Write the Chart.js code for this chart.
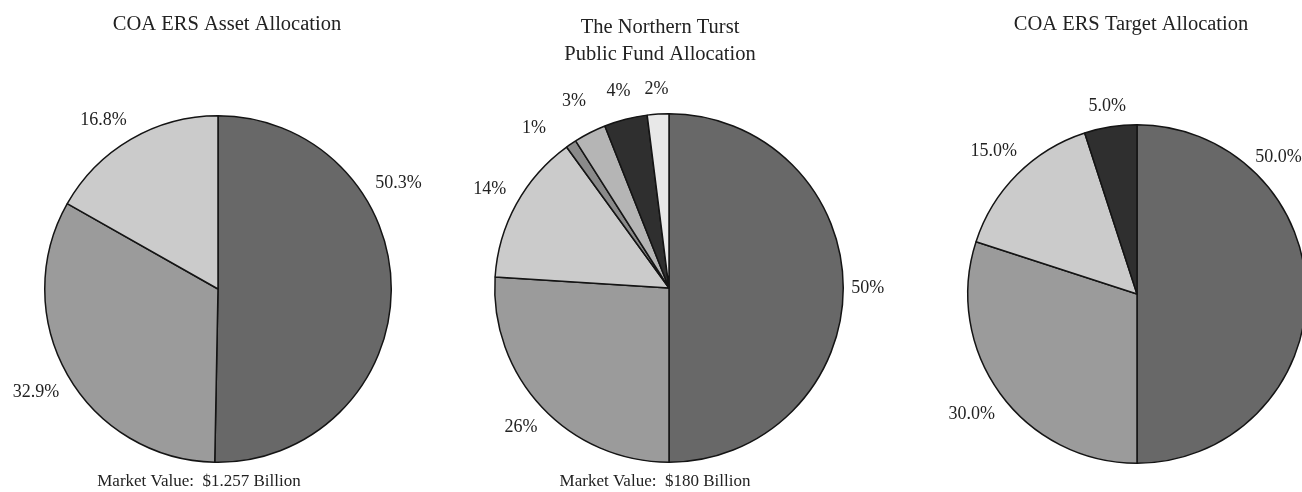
<!DOCTYPE html>
<html>
<head>
<meta charset="utf-8">
<script src="https://cdn.jsdelivr.net/npm/chart.js@4.4.0/dist/chart.umd.min.js"></script>
<style>
  html, body { margin: 0; padding: 0; background: #fff; overflow: hidden; }
  .wrap { position: relative; width: 1302px; height: 492px; overflow: hidden; }
  .wrap canvas { position: absolute; left: 0; top: 0; }
</style>
</head>
<body>
<div class="wrap">
  <canvas id="assetChart" width="1310" height="492"></canvas>
  <canvas id="trustChart" width="1310" height="492"></canvas>
  <canvas id="targetChart" width="1310" height="492"></canvas>
</div>
<script>
// allocation percentages, clockwise from 12 o'clock
var assetValues = [50.3, 32.9, 16.8];
var trustValues = [50, 26, 14, 1, 3, 4, 2];
var targetValues = [50.0, 30.0, 15.0, 5.0];

var assetColors = ["#686868", "#9b9b9b", "#cbcbcb"];
var trustColors = ["#686868", "#9b9b9b", "#cbcbcb", "#8a8a8a", "#b5b5b5", "#2f2f2f", "#e8e8e8"];
var targetColors = ["#686868", "#9b9b9b", "#cbcbcb", "#2f2f2f"];

var serif = "'Liberation Serif', 'Times New Roman', serif";
var textColor = "#222";

// percentage labels outside each slice
// shift: rotate a label (degrees), push: move it further out (px)
const sliceLabels = {
  id: "sliceLabels",
  afterDatasetsDraw(chart, args, opts) {
    const ctx = chart.ctx;
    const meta = chart.getDatasetMeta(0);
    const values = chart.data.datasets[0].data;
    const shift = opts.shift || {};
    const push = opts.push || {};
    ctx.save();
    ctx.font = opts.size + "px " + serif;
    ctx.fillStyle = textColor;
    ctx.textAlign = "center";
    ctx.textBaseline = "middle";
    meta.data.forEach(function (arc, i) {
      const p = arc.getProps(["x", "y", "startAngle", "endAngle", "outerRadius"], true);
      const mid = (p.startAngle + p.endAngle) / 2 + (shift[i] || 0) * Math.PI / 180;
      const text = values[i].toFixed(opts.decimals) + "%";
      const w = ctx.measureText(text).width;
      const cos = Math.cos(mid), sin = Math.sin(mid);
      const dist = p.outerRadius + opts.gap + (push[i] || 0) +
        Math.abs(cos) * w / 2 + Math.abs(sin) * opts.size * 0.22;
      ctx.fillText(text, p.x + cos * dist, p.y + sin * dist);
    });
    ctx.restore();
  }
};

// title above the pie and market value line below it
const captions = {
  id: "captions",
  afterDraw(chart, args, opts) {
    const ctx = chart.ctx;
    const area = chart.chartArea;
    const cx = (area.left + area.right) / 2;
    ctx.save();
    ctx.fillStyle = textColor;
    ctx.textAlign = "center";
    ctx.textBaseline = "middle";
    ctx.font = opts.titleSize + "px " + serif;
    opts.title.forEach(function (line, i) {
      ctx.fillText(line, cx + opts.titleDx, opts.titleY + i * 27);
    });
    if (opts.footer) {
      ctx.font = opts.footerSize + "px " + serif;
      ctx.fillText(opts.footer, cx + opts.footerDx, area.bottom + 19);
    }
    ctx.restore();
  }
};

function makePie(id, values, colors, decimals, padding, labelOpts, captionOpts) {
  return new Chart(document.getElementById(id), {
    type: "pie",
    data: {
      labels: values.map(function (v) { return v.toFixed(decimals) + "%"; }),
      datasets: [{
        data: values,
        backgroundColor: colors,
        borderColor: "#141414",
        borderWidth: 1.5
      }]
    },
    options: {
      responsive: false,
      animation: false,
      layout: { padding: padding },
      plugins: {
        legend: { display: false },
        tooltip: { enabled: false },
        sliceLabels: Object.assign({ size: 18, gap: 14, decimals: decimals }, labelOpts),
        captions: captionOpts
      }
    },
    plugins: [sliceLabels, captions]
  });
}

makePie("assetChart", assetValues, assetColors, 1,
  { left: 44, right: 918, top: 115, bottom: 29 },
  { shift: { 0: -31, 2: -4 } },
  {
    title: ["COA ERS Asset Allocation"], titleSize: 20.5, titleY: 25, titleDx: 9,
    footer: "Market Value:  $1.257 Billion", footerSize: 17, footerDx: -19
  });

makePie("trustChart", trustValues, trustColors, 0,
  { left: 494, right: 466, top: 113, bottom: 29 },
  { shift: { 3: -6 }, push: { 0: -6, 3: 10, 4: 12, 5: 8, 6: 6 } },
  {
    title: ["The Northern Turst", "Public Fund Allocation"], titleSize: 20.5, titleY: 28, titleDx: -9,
    footer: "Market Value:  $180 Billion", footerSize: 17, footerDx: -14
  });

makePie("targetChart", targetValues, targetColors, 1,
  { left: 967, right: 3, top: 124, bottom: 28 },
  { shift: { 0: -44 }, push: { 0: -6 } },
  {
    title: ["COA ERS Target Allocation"], titleSize: 20.5, titleY: 25, titleDx: -6
  });
</script>
</body>
</html>
